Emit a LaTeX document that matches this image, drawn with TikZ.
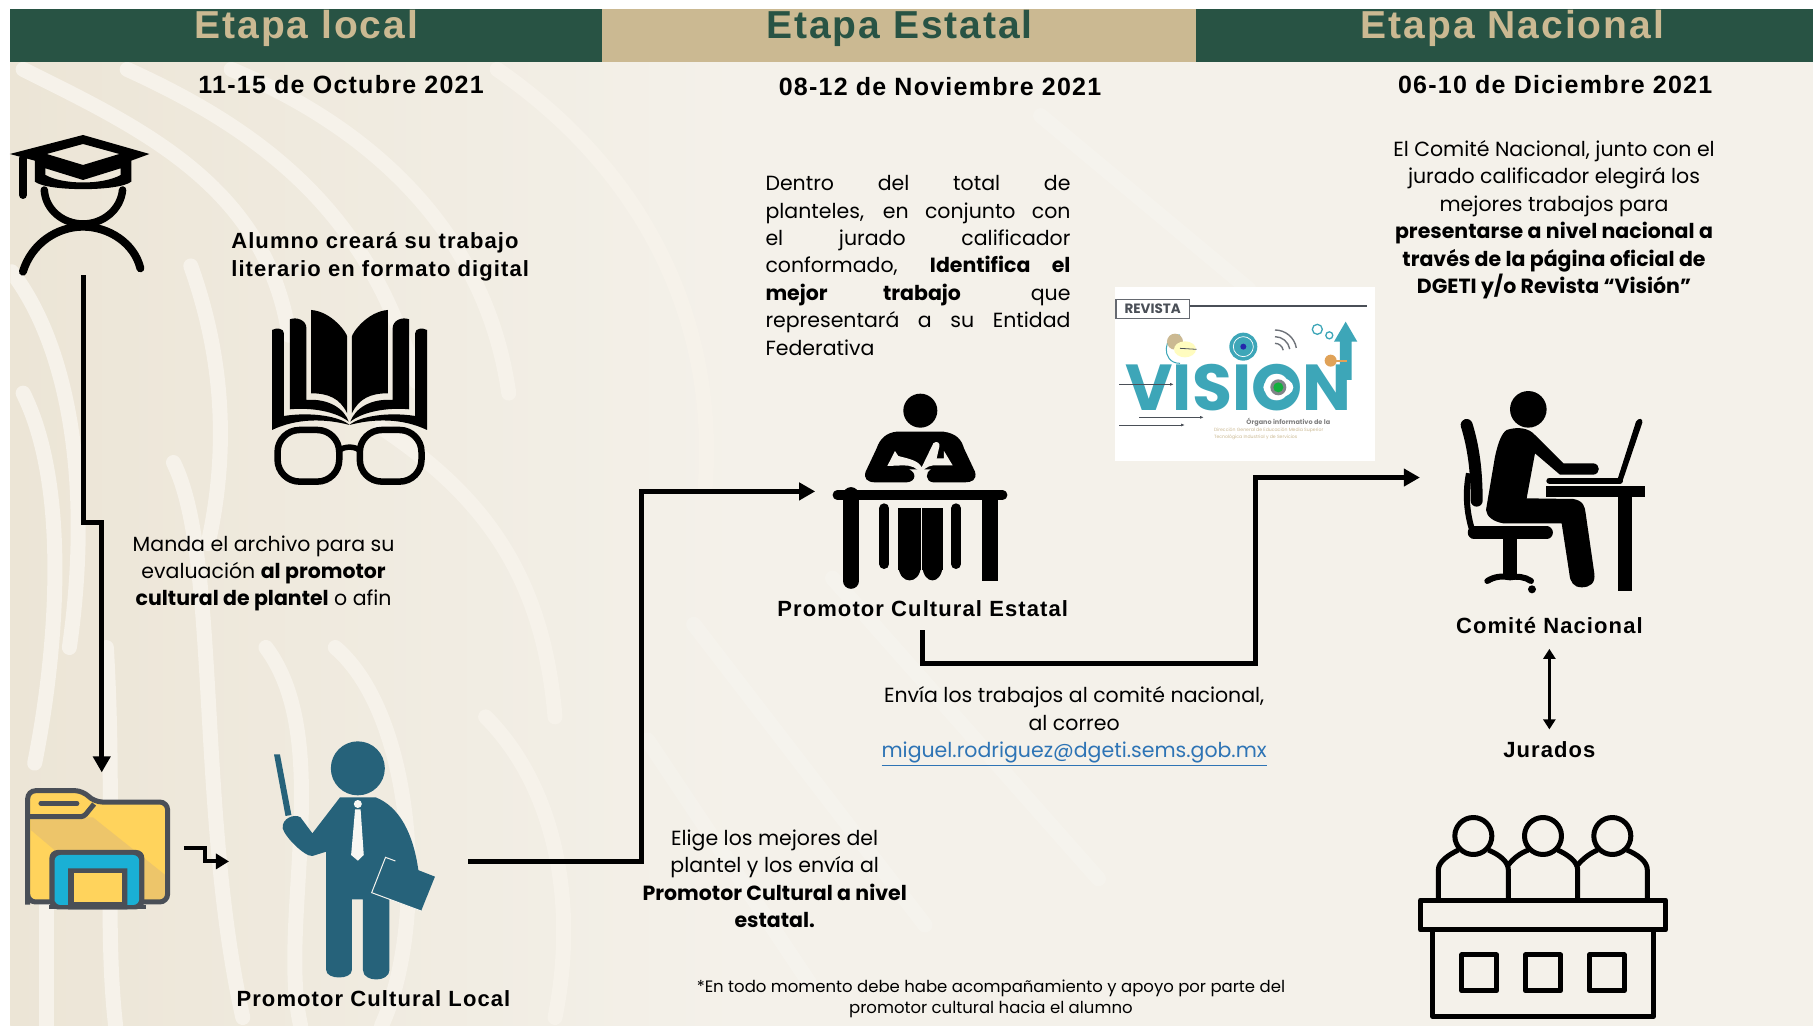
\documentclass[tikz,border=0pt]{standalone}
\usepackage{fontspec}
\setmainfont{Poppins}
\newfontfamily\arialsp[LetterSpace=5]{Liberation Sans}
\usetikzlibrary{arrows.meta}
\definecolor{hgreen}{HTML}{285344}
\definecolor{hgold}{HTML}{CBB992}
\definecolor{paper}{HTML}{F4F1EA}
\definecolor{paperd}{HTML}{ECE5D6}
\definecolor{swirl}{HTML}{F6F2EA}
\definecolor{teal}{HTML}{26627A}
\definecolor{fgray}{HTML}{4A4F57}
\definecolor{fyel}{HTML}{FFD35C}
\definecolor{fyeld}{HTML}{EDC56A}
\definecolor{fblue}{HTML}{1AB0D5}
\definecolor{vteal}{HTML}{3DA6B8}
\definecolor{linkc}{HTML}{2E74B5}
\tikzset{
  title/.style={font=\arialsp\bfseries\fontsize{39}{40}\selectfont},
  datelab/.style={font=\arialsp\bfseries\fontsize{25}{30}\selectfont,text=black},
  lab/.style={font=\arialsp\bfseries\fontsize{22}{27.4}\selectfont,text=black},
  body/.style={font=\fontsize{20.5}{27.4}\selectfont,text=black,align=center},
  icon/.style={inner sep=0pt,outer sep=0pt,draw=none},
  flow/.style={line width=5.2pt,-{Triangle[length=16pt,width=17pt]},miter limit=10},
  thinflow/.style={line width=4pt,-{Triangle[length=13pt,width=15pt]}},
  swl/.style={line width=15pt,color=swirl,line cap=round},
  swf/.style={line width=15pt,color=white,opacity=.16,line cap=round},
  ic/.style={line cap=round,line join=round}
}
\begin{document}
\begin{tikzpicture}[x=1.15625pt,y=-1.15625pt]
\useasboundingbox (0pt,0pt) rectangle (1813pt,-1026pt);
% background
\fill[white] (0pt,0pt) rectangle (1813pt,-1026pt);
\fill[paper] (9,54) rectangle (1568,887);
\begin{scope}
\clip (9,54) rectangle (1568,887);
\shade[left color=paperd,right color=paper] (9,54) rectangle (640,887);
\draw[swl] (20,60) .. controls (120,110) and (230,160) .. (250,290);
\draw[swl] (110,60) .. controls (220,110) and (320,180) .. (360,330);
\draw[swl] (200,60) .. controls (320,110) and (420,200) .. (440,340);
\draw[swl] (10,235) .. controls (60,300) and (80,420) .. (60,560);
\draw[swl] (20,340) .. controls (60,420) and (50,560) .. (30,660);
\draw[swl] (165,230) .. controls (190,300) and (200,380) .. (180,470);
\draw[swl] (150,400) .. controls (190,480) and (170,700) .. (210,880);
\draw[swl] (40,710) -- (40,887);
\draw[swl] (92,560) .. controls (100,700) and (90,800) .. (100,887);
\draw[swl] (290,560) .. controls (360,620) and (370,800) .. (330,887);
\draw[swl] (230,560) .. controls (290,640) and (240,800) .. (260,887);
\draw[swl] (430,60) .. controls (560,150) and (620,280) .. (610,420);
\draw[swl] (330,370) .. controls (420,430) and (470,500) .. (480,620);
\draw[swl] (420,620) .. controls (480,680) and (500,780) .. (480,880);
\draw[swf] (600,540) -- (800,800);
\draw[swf] (560,640) -- (700,850);
\draw[swf] (720,500) -- (950,760);
\draw[swf] (900,100) -- (1080,250);
\end{scope}
% header
\fill[hgreen] (9,8) rectangle (521,54);
\fill[hgold] (521,8) rectangle (1034,54);
\fill[hgreen] (1034,8) rectangle (1568,54);
\node[title,text=hgold] (t1) at (265,25) {Etapa local};
\node[title,text=hgreen] (t2) at (778,25) {Etapa Estatal};
\node[title,text=hgold] (t3) at (1308,25) {Etapa Nacional};
\node[datelab] (d1) at (295,73) {11-15 de Octubre 2021};
\node[datelab] (d2) at (813,75) {08-12 de Noviembre 2021};
\node[datelab] (d3) at (1345,73) {06-10 de Diciembre 2021};
% connector anchors: invisible boxes round the icons
\node[icon,minimum width=20pt,minimum height=138.75pt] (alumno) at (72,178) {};
\node[icon,minimum width=164.2pt,minimum height=150.3pt] (carpeta) at (88,733) {};
\node[icon,minimum width=239.3pt,minimum height=277.5pt] (promotor) at (301.5,745) {};
\node[icon,minimum width=215pt,minimum height=277.5pt] (estatal) at (798,425) {};
\node[icon,minimum width=259pt,minimum height=277.5pt] (comite) at (1340,413) {};
% student icon
\begin{scope}[shift={(0pt,0pt)},x=0.3954pt,y=-0.3333pt]
\fill[even odd rule,black,ic] (25,462) -- (210,405) -- (378,462) -- (332,482) -- (332,545) .. controls (300,575) and (120,575) .. (88,545) -- (88,482) -- cycle
 (118,462) -- (210,432) -- (302,462) -- (210,495) -- cycle
 (115,505) -- (210,540) -- (305,505) -- (305,525) .. controls (260,555) and (160,555) .. (115,525) -- cycle;
\draw[line width=8pt,line cap=round] (58,475) -- (58,585);
\draw[line width=7.5pt,line cap=round] (112,570) .. controls (115,630) and (160,672) .. (210,672) .. controls (260,672) and (305,630) .. (310,570);
\draw[line width=8pt,line cap=round] (58,815) .. controls (80,730) and (145,680) .. (210,680) .. controls (275,680) and (340,730) .. (355,805);
% book
\fill (787,930) .. controls (840,935) and (878,1000) .. (878,1010) -- (878,1240) .. controls (860,1195) and (830,1180) .. (787,1180) -- cycle;
\fill (981,930) .. controls (928,935) and (890,1000) .. (890,1010) -- (890,1240) .. controls (908,1195) and (938,1180) .. (981,1180) -- cycle;
\fill (733,958) .. controls (750,950) and (775,960) .. (775,985) -- (775,1200) .. controls (830,1195) and (870,1225) .. (882,1265) .. controls (850,1235) and (790,1222) .. (733,1228) -- cycle;
\fill (1035,958) .. controls (1018,950) and (993,960) .. (993,985) -- (993,1200) .. controls (938,1195) and (898,1225) .. (886,1265) .. controls (918,1235) and (978,1222) .. (1035,1228) -- cycle;
\fill (688,990) .. controls (700,982) and (718,985) .. (718,1000) -- (718,1248) .. controls (790,1235) and (860,1250) .. (884,1275) .. controls (820,1255) and (750,1255) .. (688,1290) -- cycle;
\fill (1080,990) .. controls (1068,982) and (1050,985) .. (1050,1000) -- (1050,1248) .. controls (978,1235) and (908,1250) .. (884,1275) .. controls (948,1255) and (1018,1255) .. (1080,1290) -- cycle;
\draw[line width=6.5pt,rounded corners=22pt] (702,1290) rectangle (858,1445);
\draw[line width=6.5pt,rounded corners=22pt] (910,1290) rectangle (1066,1445);
\draw[line width=5.5pt] (858,1352) .. controls (870,1338) and (898,1338) .. (910,1352);
\end{scope}
% folder and teacher
\begin{scope}[shift={(0pt,-700pt)},x=0.3954pt,y=-0.3333pt]
\path[fill=fyel] (70,290) -- (70,275) -- (208,272) -- (238,306) -- (410,306) -- (424,320) -- (424,590) -- (410,606) -- (85,606) -- (70,590) -- cycle;
\fill[fyeld] (78,352) -- (235,352) -- (418,525) -- (418,598) -- (285,598) -- (78,390) -- cycle;
\draw[fgray,line width=5pt,rounded corners=8pt] (70,590) -- (70,272) -- (210,272) -- (238,306) -- (424,306) -- (424,606) -- (70,606) -- cycle;
\draw[fgray,line width=5pt,rounded corners=3pt] (70,350) -- (212,350) -- (238,312);
\draw[fgray,line width=4.5pt,line cap=round] (103,310) -- (195,310);
\fill[fgray,rounded corners=8pt] (125,628) -- (125,450) -- (365,450) -- (365,628) -- cycle;
\fill[fblue,rounded corners=6pt] (138,615) -- (138,465) -- (352,465) -- (352,615) -- (138,615) -- cycle;
\fill[fgray] (172,628) -- (172,505) -- (322,505) -- (322,628) -- (308,628) -- (308,628) -- cycle;
\fill[fyel] (187,606) -- (187,520) -- (308,520) -- (308,606) -- cycle;
\fill[fgray] (125,615) rectangle (185,628);
\fill[fgray] (308,615) rectangle (368,628);
% teacher
\fill[teal] (905,205) circle[radius=27pt];
\fill[teal] (693,163) -- (708,163) -- (737,345) -- (722,348) -- cycle;
\fill[teal] (860,292) -- (950,292) .. controls (1010,320) and (1045,400) .. (1058,510) -- (985,560) -- (985,810) .. controls (985,848) and (918,848) .. (918,810) -- (918,598) -- (890,598) -- (890,810) .. controls (890,840) and (825,840) .. (825,810) -- (825,455) -- (790,468) .. controls (770,470) and (720,410) .. (715,385) .. controls (712,355) and (745,340) .. (760,352) -- (790,400) -- cycle;
\fill[teal] (975,472) -- (1100,530) -- (1065,633) -- (940,578) -- cycle;
\draw[paper!80!white,line width=1pt] (1065,633) -- (940,578) -- (975,472) -- (1000,483);
\fill[paper!60!white] (905,312) circle[radius=4pt];
\fill[paper!60!white] (898,328) -- (912,328) -- (920,465) -- (905,482) -- (888,465) -- cycle;
\end{scope}
% state promoter
\begin{scope}[shift={(780pt,-380pt)},x=0.3333pt,y=-0.3333pt]
\fill (421,92) circle[radius=17pt];
\fill (350,155) -- (490,155) .. controls (530,160) and (545,180) .. (552,205) -- (585,275) .. controls (592,300) and (575,307) .. (555,307) -- (460,307) .. controls (435,305) and (435,275) .. (455,268) -- (385,268) .. controls (410,275) and (410,305) .. (380,307) -- (285,307) .. controls (262,307) and (250,295) .. (257,275) -- (290,205) .. controls (300,175) and (320,158) .. (350,155) -- cycle;
\fill[paper] (322,258) -- (345,213) -- (355,228) .. controls (380,235) and (415,240) .. (425,262) -- (460,190) .. controls (470,180) and (482,190) .. (478,200) -- (470,235) -- (492,235) -- (492,213) -- (518,256) -- (460,256) .. controls (440,258) and (430,270) .. (420,282) .. controls (415,262) and (390,256) .. (370,256) -- cycle;
\draw[line width=9.5pt,line cap=round] (172,345) -- (668,345);
\draw[line width=15.7pt,line cap=round] (213,345) -- (213,603);
\fill (607,345) rectangle (653,603);
\draw[line width=10pt,line cap=round] (313,385) -- (313,552);
\fill (298,385) rectangle (328,420);
\fill (355,385) rectangle (423,570);
\fill (427,385) rectangle (488,570);
\fill (355,560) .. controls (360,615) and (418,615) .. (423,560) -- cycle;
\fill (427,560) .. controls (432,615) and (483,615) .. (488,560) -- cycle;
\draw[line width=10pt,line cap=round] (528,385) -- (528,552);
\fill (513,385) rectangle (543,420);
\end{scope}
% national committee
\begin{scope}[shift={(1400pt,-370pt)},x=0.3333pt,y=-0.3333pt]
\fill (385,118) circle[radius=18.3pt];
\fill (320,180) .. controls (350,170) and (385,172) .. (405,195) -- (490,280) -- (580,280) .. controls (602,282) and (602,312) .. (580,314) -- (480,314) -- (405,250) -- (380,385) -- (520,387) .. controls (550,392) and (555,410) .. (557,430) -- (583,610) .. controls (587,640) and (570,652) .. (545,652) .. controls (520,652) and (510,635) .. (508,610) -- (485,460) -- (310,460) .. controls (280,455) and (260,440) .. (258,420) -- (285,260) .. controls (295,215) and (305,190) .. (320,180) -- cycle;
\draw[line width=12pt,line cap=round,line join=round] (200,165) .. controls (220,230) and (230,300) .. (230,392);
\draw[line width=6pt] (207,310) .. controls (195,370) and (200,430) .. (218,485);
\draw[line width=12.5pt,line cap=round] (222,488) -- (440,488);
\fill (310,505) rectangle (350,625);
\draw[line width=6pt,line cap=round] (262,633) .. controls (285,618) and (310,618) .. (330,622) .. controls (350,618) and (375,620) .. (393,633);
\fill (396,658) circle[radius=4pt];
\draw[line width=6pt,line cap=round] (448,332) -- (660,332);
\fill (708,155) .. controls (715,142) and (730,145) .. (727,158) -- (667,335) -- (652,330) -- cycle;
\fill (438,347) rectangle (735,382);
\fill (653,380) rectangle (697,663);
\end{scope}
% jury
\begin{scope}[shift={(1400pt,-800pt)},x=0.3333pt,y=-0.3333pt,line width=5pt,line join=round]
\foreach \cx in {220,429,637} \draw (\cx,108) circle[radius=18.5pt];
\draw (115,300) -- (115,210) .. controls (115,185) and (145,165) .. (175,150);
\draw (265,150) .. controls (300,165) and (325,185) .. (325,210) -- (325,300);
\draw (325,195) .. controls (340,175) and (360,160) .. (385,150);
\draw (473,150) .. controls (505,165) and (533,185) .. (533,210) -- (533,300);
\draw (533,195) .. controls (550,175) and (570,160) .. (593,150);
\draw (681,150) .. controls (715,165) and (742,185) .. (742,210) -- (742,300);
\draw (62,300) rectangle (797,390);
\draw (98,390) -- (98,650) -- (760,650) -- (760,390);
\draw (185,465) rectangle (290,572);
\draw (376,465) rectangle (482,572);
\draw (568,465) rectangle (673,572);
\end{scope}
% Revista Vision picture
\begin{scope}[shift={(1080pt,-270pt)},x=0.3333pt,y=-0.3333pt]
\fill[white] (105,52) rectangle (885,572);
\draw[fgray!85,line width=1.4pt] (108,88) rectangle (328,145);
\node[inner sep=0pt,text=fgray,font=\bfseries\fontsize{13.5}{14}\selectfont] (rev) at (218,116) {REVISTA};
\draw[fgray,line width=2.2pt] (330,107) -- (860,107);
\node[inner sep=0pt,text=vteal,font=\bfseries\fontsize{65}{65}\selectfont] (vis) at (475,352) {VISION};
\fill[vteal] (490,230) circle[radius=14pt];
\draw[white,line width=.7pt] (490,230) circle[radius=10pt];
\fill[fgray!50!blue] (490,230) circle[radius=3pt];
\draw[vteal,line width=1pt] (300,280) .. controls (240,280) and (250,190) .. (300,195);
\fill[hgold] (285,215) circle[radius=8pt];
\fill[yellow!25] (315,238) ellipse[x radius=11pt,y radius=8pt];
\draw[fgray,line width=.8pt] (300,235) -- (350,238);
\foreach \rr in {25,45,65} \draw[fgray!80,line width=1.4pt] (585,245+0) ++(0,-\rr) arc[start angle=90,end angle=10,radius=\rr*0.3333pt];
\draw[vteal,fill=white,line width=1.3pt] (712,178) circle[radius=5pt];
\draw[vteal,fill=white,line width=1.3pt] (748,196) circle[radius=3.5pt];
\fill[vteal] (797,155) -- (832,215) -- (815,215) -- (815,330) -- (780,330) -- (780,215) -- (762,215) -- cycle;
\fill[hgold!60!orange] (752,272) circle[radius=6pt];
\draw[hgold!60!orange,line width=2pt] (752,272) -- (800,272);
\fill[white] (595,352) ellipse[x radius=15pt,y radius=10pt];
\fill[fgray!70] (595,352) circle[radius=8pt];
\fill[green!50!teal] (595,352) circle[radius=5pt];
\draw[fgray,line width=.8pt,-{Latex[length=4pt]}] (118,343) -- (282,343);
\draw[fgray,line width=.8pt,-{Latex[length=4pt]}] (178,442) -- (372,442);
\draw[fgray,line width=.8pt,-{Latex[length=4pt]}] (118,465) -- (315,465);
\node[inner sep=0pt,text=gray,font=\bfseries\fontsize{6.5}{7}\selectfont] (org) at (625,456) {Órgano informativo de la};
\node[inner sep=0pt,text=hgold,align=left,font=\fontsize{4.6}{7}\selectfont] (org2) at (566,492) {Dirección General de Educación Media Superior\\Tecnológica Industrial y de Servicios};
\end{scope}
% texts
\node[lab,align=left,anchor=west] (talumno) at (197,222) {Alumno creará su trabajo\\literario en formato digital};
\node[body] (tmanda) at (228,496) {Manda el archivo para su\\evaluación \textbf{al promotor}\\\textbf{cultural de plantel} o afin};
\node[lab] (tlocal) at (323,864) {Promotor Cultural Local};
\node[body] (telige) at (670,760) {Elige los mejores del\\plantel y los envía al\\\textbf{Promotor Cultural a nivel}\\\textbf{estatal.}};
\node[body,font=\fontsize{16.5}{20.8}\selectfont] (tfoot) at (857,864) {*En todo momento debe habe acompañamiento y apoyo por parte del\\promotor cultural hacia el alumno};
\node[body,align=justify,text width=305pt,anchor=west] (tdentro) at (659,229.5) {\tolerance=10000\hbadness=10000 Dentro del total de\linebreak planteles, en conjunto con\linebreak el jurado calificador\linebreak conformado, \textbf{Identifica el}\linebreak \textbf{mejor trabajo} que\linebreak representará a su Entidad\linebreak Federativa};
\node[lab] (testatal) at (798,526) {Promotor Cultural Estatal};
\node[body] (tenvia) at (929,628) {Envía los trabajos al comité nacional,\\al correo\\\textcolor{linkc}{\underline{miguel.rodriguez@dgeti.sems.gob.mx}}};
\node[lab,minimum height=46.25pt,inner sep=0pt] (tcomite) at (1340,541) {Comité Nacional};
\node[lab,minimum height=39.3pt,inner sep=0pt] (tjurados) at (1340,648) {Jurados};
\node[body] (tcn) at (1344,190) {El Comité Nacional, junto con el\\jurado calificador elegirá los\\mejores trabajos para\\\textbf{presentarse a nivel nacional a}\\\textbf{través de la página oficial de}\\\textbf{DGETI y/o Revista “Visión”}};
% connectors
\draw[flow] (alumno.south) -- ++(0,214) -- ++(16,0) -- (carpeta.north);
\draw[thinflow] (carpeta.east) -- ++(18,0) |- (promotor.west);
\draw[flow] (promotor.east) -- ++(150,0) |- (estatal.west);
\draw[flow] (estatal.south) -- ++(0,29) -- ++(288,0) |- (comite.west);
\draw[line width=3.2pt,{Triangle[length=10pt,width=12pt]}-{Triangle[length=10pt,width=12pt]}] (tcomite.south) -- (tjurados.north);
\end{tikzpicture}
\end{document}
